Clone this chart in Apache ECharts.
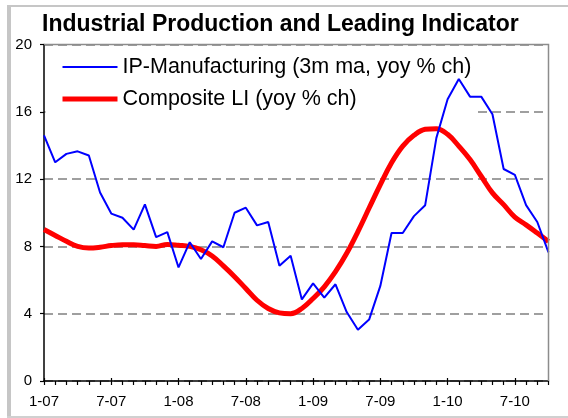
<!DOCTYPE html>
<html>
<head>
<meta charset="utf-8">
<script src="https://cdn.jsdelivr.net/npm/echarts@6/dist/echarts.min.js"></script>
<style>
  html, body { margin: 0; padding: 0; background: #ffffff; }
  #chart { width: 568px; height: 418px; }
</style>
</head>
<body>
<div id="chart"></div>
<script>
// Monthly observations, Jan 2007 – Oct 2010
const months = [
  '1-07','2-07','3-07','4-07','5-07','6-07','7-07','8-07','9-07','10-07','11-07','12-07',
  '1-08','2-08','3-08','4-08','5-08','6-08','7-08','8-08','9-08','10-08','11-08','12-08',
  '1-09','2-09','3-09','4-09','5-09','6-09','7-09','8-09','9-09','10-09','11-09','12-09',
  '1-10','2-10','3-10','4-10','5-10','6-10','7-10','8-10','9-10','10-10'
];

// IP-Manufacturing, 3-month moving average, yoy % change
const ipManufacturing = [
  14.6, 13.0, 13.5, 13.65, 13.4, 11.2, 9.95, 9.7, 9.0, 10.5, 8.55, 8.85,
  6.75, 8.25, 7.25, 8.3, 7.95, 10.0, 10.3, 9.25, 9.45, 6.85, 7.45, 4.85,
  5.8, 4.95, 5.75, 4.1, 3.05, 3.65, 5.65, 8.8, 8.8, 9.8, 10.45, 14.45,
  16.75, 17.95, 16.9, 16.9, 15.85, 12.6, 12.25, 10.45, 9.45, 7.65
];

// Composite leading indicator, yoy % change
const compositeLI = [
  9.0, 8.65, 8.3, 8.0, 7.9, 7.95, 8.05, 8.1, 8.1, 8.05, 8.0, 8.12,
  8.07, 8.0, 7.8, 7.43, 6.84, 6.2, 5.5, 4.8, 4.31, 4.05, 4.0, 4.31,
  4.9, 5.6, 6.5, 7.59, 8.88, 10.28, 11.67, 12.97, 13.96, 14.6, 14.96, 15.0,
  14.66, 13.96, 13.16, 12.17, 11.18, 10.48, 9.74, 9.28, 8.79, 8.29
];

const seriesNames = ['IP-Manufacturing (3m ma, yoy % ch)', 'Composite LI (yoy % ch)'];
const yMin = 0, yMax = 20, yStep = 4;
const labelEvery = 6; // one date label every six months

const FONT = "'Liberation Sans', Arial, Helvetica, sans-serif";
const BLUE = '#0000ff', RED = '#ff0000';
const HIDDEN = 'rgba(0,0,0,0)';

const chart = echarts.init(document.getElementById('chart'), null, { renderer: 'canvas' });

chart.setOption({
  backgroundColor: '#ffffff',
  animation: false,
  title: {
    text: 'Industrial Production and Leading Indicator',
    left: 42,
    top: 13,
    padding: 0,
    textStyle: { fontFamily: FONT, fontSize: 23, fontWeight: 'bold', color: '#000000' }
  },
  graphic: [
    // outer frame
    { type: 'rect', shape: { x: 7, y: 5, width: 4, height: 413 }, style: { fill: '#c6c6c6' }, silent: true },
    { type: 'rect', shape: { x: 7, y: 5, width: 561, height: 2 }, style: { fill: '#c6c6c6' }, silent: true },
    { type: 'rect', shape: { x: 7, y: 416, width: 561, height: 2 }, style: { fill: '#d0d0d0' }, silent: true },
    // plot-area border (top and right), drawn over the top gridline
    { type: 'polyline', shape: { points: [[44, 44.5], [548.5, 44.5], [548.5, 381]] },
      style: { stroke: '#8c8c8c', lineWidth: 1.5, fill: null }, silent: true, z: 10 }
  ],
  legend: {
    orient: 'vertical',
    left: 45.5,
    top: 46,
    padding: [9, 6, 5, 14.5],
    itemGap: 8,
    itemWidth: 55,
    itemHeight: 14,
    backgroundColor: '#ffffff',
    z: 1,
    textStyle: { fontFamily: FONT, fontSize: 21.5, color: '#000000', lineHeight: 24 },
    data: [
      { name: seriesNames[0],
        itemStyle: { color: HIDDEN, borderColor: HIDDEN, borderWidth: 0, opacity: 0 },
        lineStyle: { color: BLUE, width: 2, opacity: 1 } },
      { name: seriesNames[1],
        itemStyle: { color: HIDDEN, borderColor: HIDDEN, borderWidth: 0, opacity: 0 },
        lineStyle: { color: RED, width: 5, opacity: 1 } }
    ]
  },
  grid: { left: 44, right: 19.5, top: 44.5, bottom: 37, containLabel: false },
  xAxis: [
    {
      type: 'category',
      data: months,
      boundaryGap: false,
      axisLine: { lineStyle: { color: '#000000', width: 1.5 } },
      axisTick: { show: true, interval: 0, length: 4, lineStyle: { color: '#000000', width: 1.2 } },
      axisLabel: { interval: labelEvery - 1, margin: 13, fontFamily: FONT, fontSize: 15, color: '#000000' },
      splitLine: { show: false }
    },
    {
      // labelled months get a tick that also crosses above the axis
      type: 'category',
      data: months,
      boundaryGap: false,
      position: 'bottom',
      axisLine: { show: false },
      axisTick: { show: true, inside: true, interval: labelEvery - 1, length: 3, lineStyle: { color: '#000000', width: 1.2 } },
      axisLabel: { show: false },
      splitLine: { show: false }
    }
  ],
  yAxis: {
    type: 'value',
    min: yMin,
    max: yMax,
    interval: yStep,
    axisLine: { show: true, lineStyle: { color: '#000000', width: 1.5 } },
    axisTick: { show: true, length: 4, lineStyle: { color: '#000000', width: 1.2 } },
    axisLabel: { margin: 12, fontFamily: FONT, fontSize: 15, color: '#000000' },
    splitLine: {
      show: true,
      lineStyle: { color: '#808080', width: 1.5, type: [9, 5] }
    }
  },
  series: [
    {
      name: seriesNames[0],
      type: 'line',
      data: ipManufacturing,
      symbol: 'none',
      z: 3,
      lineStyle: { color: BLUE, width: 2 },
      itemStyle: { color: BLUE }
    },
    {
      name: seriesNames[1],
      type: 'line',
      data: compositeLI,
      symbol: 'none',
      smooth: 0.4,
      z: 2,
      lineStyle: { color: RED, width: 5 },
      itemStyle: { color: RED }
    }
  ]
});
</script>
</body>
</html>
